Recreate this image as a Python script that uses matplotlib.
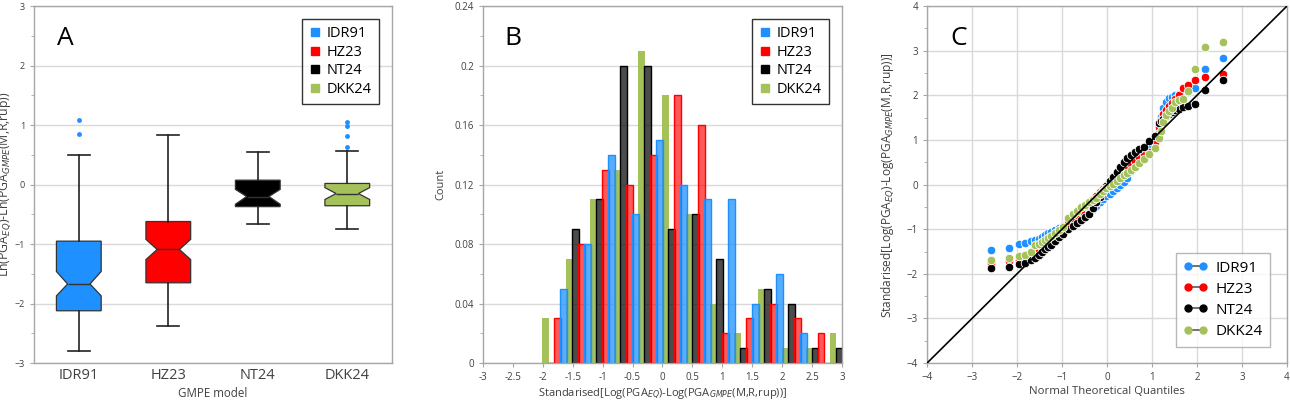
import matplotlib.pyplot as plt
import numpy as np
from matplotlib.lines import Line2D
from matplotlib.ticker import MultipleLocator

plt.rcParams['font.family'] = ['Open Sans', 'DejaVu Sans']

models = ['IDR91', 'HZ23', 'NT24', 'DKK24']
colors = ['#1E90FF', '#FF0000', '#000000', '#A4C15A']

# --- A: notched box plot stats
box_med = [-1.67, -1.09, -0.20, -0.15]
box_q1 = [-2.12, -1.65, -0.37, -0.355]
box_q3 = [-0.95, -0.62, 0.075, 0.02]
box_lo = [-2.79, -2.37, -0.66, -0.75]
box_hi = [0.50, 0.83, 0.54, 0.57]
notch_lo = [-1.87, -1.26, -0.33, -0.25]
notch_hi = [-1.46, -0.92, -0.08, -0.05]
outliers = [[1.08, 0.85], [], [], [1.05, 0.98, 0.81, 0.635]]

# --- B: relative frequency per 0.4-wide bin
bin_centers = [-1.8, -1.4, -1.0, -0.6, -0.2, 0.2, 0.6, 1.0, 1.4, 1.8, 2.2, 2.6, 3.0]
freq_idr91 = [0.05, 0.08, 0.14, 0.10, 0.15, 0.12, 0.11, 0.11, 0.04, 0.06, 0.02, 0, 0]
freq_hz23 = [0.03, 0.08, 0.13, 0.12, 0.14, 0.18, 0.16, 0.02, 0.03, 0.04, 0.03, 0.02, 0]
freq_nt24 = [0, 0.09, 0.11, 0.20, 0.20, 0.09, 0.10, 0.07, 0.01, 0.05, 0.04, 0.01, 0.01]
freq_dkk24 = [0.03, 0.07, 0.11, 0.13, 0.21, 0.18, 0.10, 0.04, 0.02, 0.05, 0.01, 0.01, 0.02]

# --- C: Q-Q points
theo_q = [-2.576, -2.170, -1.960, -1.812, -1.695, -1.598, -1.514, -1.440, -1.372, -1.311,
          -1.254, -1.150, -1.058, -0.974, -0.860, -0.755, -0.659, -0.568, -0.482, -0.399,
          -0.319, -0.240, -0.164, -0.088, -0.013, 0.063, 0.138, 0.215, 0.292, 0.372,
          0.454, 0.539, 0.628, 0.722, 0.824, 0.935, 1.058, 1.150, 1.200, 1.254,
          1.311, 1.372, 1.440, 1.514, 1.598, 1.695, 1.812, 1.960, 2.170, 2.576]
qq_idr91 = [-1.47, -1.41, -1.33, -1.30, -1.27, -1.25, -1.22, -1.18, -1.13, -1.09,
            -1.06, -1.02, -0.97, -0.92, -0.86, -0.80, -0.74, -0.68, -0.62, -0.60,
            -0.55, -0.48, -0.40, -0.33, -0.26, -0.20, -0.14, -0.07, -0.01, 0.06,
            0.15, 0.30, 0.45, 0.60, 0.74, 0.88, 1.00, 1.25, 1.52, 1.72,
            1.85, 1.93, 1.97, 2.00, 2.02, 2.05, 2.08, 2.17, 2.58, 2.84]
qq_hz23 = [-1.76, -1.72, -1.68, -1.63, -1.58, -1.53, -1.48, -1.43, -1.37, -1.31,
           -1.26, -1.17, -1.08, -0.99, -0.87, -0.76, -0.67, -0.58, -0.49, -0.41,
           -0.33, -0.25, -0.17, -0.10, -0.03, 0.04, 0.11, 0.18, 0.25, 0.32,
           0.39, 0.46, 0.54, 0.61, 0.67, 0.72, 0.95, 1.30, 1.45, 1.58,
           1.68, 1.76, 1.84, 1.92, 2.00, 2.16, 2.23, 2.35, 2.41, 2.47]
qq_nt24 = [-1.87, -1.85, -1.78, -1.75, -1.69, -1.64, -1.58, -1.50, -1.44, -1.40,
           -1.35, -1.26, -1.18, -1.10, -1.00, -0.93, -0.86, -0.79, -0.72, -0.65,
           -0.52, -0.40, -0.27, -0.15, -0.04, 0.07, 0.18, 0.28, 0.40, 0.50,
           0.59, 0.66, 0.74, 0.80, 0.85, 0.98, 1.10, 1.38, 1.43, 1.48,
           1.53, 1.58, 1.62, 1.67, 1.70, 1.73, 1.77, 1.81, 2.12, 2.35]
qq_dkk24 = [-1.70, -1.65, -1.60, -1.57, -1.52, -1.36, -1.32, -1.28, -1.24, -1.20,
            -1.16, -1.08, -1.01, -0.95, -0.75, -0.66, -0.58, -0.51, -0.45, -0.40,
            -0.35, -0.29, -0.22, -0.15, -0.08, -0.04, 0.02, 0.08, 0.15, 0.21,
            0.27, 0.33, 0.40, 0.48, 0.57, 0.68, 0.82, 1.05, 1.20, 1.40,
            1.55, 1.65, 1.72, 1.86, 1.90, 1.92, 2.09, 2.58, 3.08, 3.20]
ref_line = [-4, 4]

grid_c = '#d9d9d9'
spine_c = '#a6a6a6'
text_c = '#404040'
small = 7

fig = plt.figure(figsize=(12.9, 4.08), dpi=100)
axA = fig.add_axes([0.0264, 0.110, 0.2775, 0.875])
axB = fig.add_axes([0.3744, 0.110, 0.2783, 0.875])
axC = fig.add_axes([0.7186, 0.110, 0.2790, 0.875])

def style(ax):
    for s in ax.spines.values():
        s.set_color(spine_c)
        s.set_linewidth(1.0)
    ax.tick_params(labelsize=small, colors=text_c, length=3, width=0.8)
    ax.tick_params(which='minor', length=2, width=0.6, colors=spine_c)
    ax.tick_params(which='major', color=spine_c)
    ax.set_axisbelow(True)

# ---------- A
stats = []
for i in range(4):
    stats.append(dict(med=box_med[i], q1=box_q1[i], q3=box_q3[i], whislo=box_lo[i],
                      whishi=box_hi[i], cilo=notch_lo[i], cihi=notch_hi[i],
                      fliers=outliers[i], label=models[i]))
bp = axA.bxp(stats, positions=[1, 2, 3, 4], widths=0.5, shownotches=True, patch_artist=True,
             boxprops=dict(edgecolor='#333333', linewidth=0.9),
             medianprops=dict(color='#333333', linewidth=1.0),
             whiskerprops=dict(color='#222222', linewidth=1.2),
             capprops=dict(color='#222222', linewidth=1.2),
             flierprops=dict(marker='o', markersize=3.5, markerfacecolor='#1E90FF',
                             markeredgecolor='none'))
for patch, c in zip(bp['boxes'], colors):
    patch.set_facecolor(c)
axA.set_xlim(0.5, 4.5)
axA.set_ylim(-3, 3)
axA.yaxis.set_major_locator(MultipleLocator(1))
axA.yaxis.set_minor_locator(MultipleLocator(0.5))
axA.grid(axis='y', color=grid_c, linewidth=1.0)
style(axA)
axA.tick_params(axis='x', labelsize=10.5, length=0)
axA.tick_params(axis='y', labelsize=6.5)
axA.set_xlabel('GMPE model', fontsize=8.3, color=text_c, labelpad=3)
axA.set_ylabel('Ln(PGA$_{EQ}$)-Ln(PGA$_{GMPE}$(M,R,rup))', fontsize=8.8, color=text_c)
axA.yaxis.set_label_coords(-0.058, 0.5)
axA.text(0.065, 0.91, 'A', transform=axA.transAxes, fontsize=19, va='center')
hA = [Line2D([], [], marker='s', linestyle='none', markersize=6, color=c) for c in colors]
legA = axA.legend(hA, models, loc='upper right', fontsize=10.5, frameon=True, fancybox=False,
                  handlelength=0.8, handletextpad=0.4, borderpad=0.5, labelspacing=0.25,
                  bbox_to_anchor=(0.985, 0.985))
legA.get_frame().set_edgecolor('black')
legA.get_frame().set_linewidth(1.0)

# ---------- B
offsets = [0.15, 0.05, -0.05, -0.15]
freqs = [freq_idr91, freq_hz23, freq_nt24, freq_dkk24]
face_alpha = [0.75, 0.65, 0.7, 1.0]
for i in [3, 2, 1, 0]:
    xs = np.array(bin_centers) + offsets[i]
    axB.bar(xs, freqs[i], width=0.115, color=colors[i], alpha=face_alpha[i],
            edgecolor='none')
    if i != 3:
        axB.bar(xs, freqs[i], width=0.115, facecolor='none', edgecolor=colors[i], linewidth=1.0)
axB.set_xlim(-3, 3)
axB.set_ylim(0, 0.24)
axB.set_xticks([-3, -2.5, -2, -1.5, -1, -0.5, 0, 0.5, 1, 1.5, 2, 2.5, 3])
axB.set_xticklabels(['-3', '-2.5', '-2', '-1.5', '-1', '-0.5', '0', '0.5', '1', '1.5', '2', '2.5', '3'])
axB.set_yticks([0, 0.04, 0.08, 0.12, 0.16, 0.2, 0.24])
axB.set_yticklabels(['0', '0.04', '0.08', '0.12', '0.16', '0.2', '0.24'])
axB.yaxis.set_minor_locator(MultipleLocator(0.02))
axB.grid(axis='y', color=grid_c, linewidth=1.0)
style(axB)
axB.set_xlabel('Standarised[Log(PGA$_{EQ}$)-Log(PGA$_{GMPE}$(M,R,rup))]', fontsize=8,
               color=text_c, labelpad=2)
axB.set_ylabel('Count', fontsize=8, color=text_c, labelpad=6)
axB.text(0.06, 0.91, 'B', transform=axB.transAxes, fontsize=19, va='center')
legB = axB.legend(hA, models, loc='upper right', fontsize=10.5, frameon=True, fancybox=False,
                  handlelength=0.8, handletextpad=0.4, borderpad=0.5, labelspacing=0.25,
                  bbox_to_anchor=(0.985, 0.985))
legB.get_frame().set_edgecolor('black')
legB.get_frame().set_linewidth(1.0)

# ---------- C
qq = [qq_idr91, qq_hz23, qq_nt24, qq_dkk24]
for i in range(4):
    axC.scatter(theo_q, qq[i], s=38, color=colors[i], edgecolors='white', linewidths=0.6, zorder=3)
axC.plot(ref_line, ref_line, color='black', linewidth=1.2, zorder=4)
axC.set_xlim(-4, 4)
axC.set_ylim(-4, 4)
axC.xaxis.set_major_locator(MultipleLocator(1))
axC.yaxis.set_major_locator(MultipleLocator(1))
axC.yaxis.set_minor_locator(MultipleLocator(0.5))
axC.grid(color=grid_c, linewidth=1.0)
style(axC)
axC.set_xlabel('Normal Theoretical Quantiles', fontsize=8.2, color=text_c, labelpad=2)
axC.set_ylabel('Standarised[Log(PGA$_{EQ}$)-Log(PGA$_{GMPE}$(M,R,rup))]', fontsize=8.6,
               color=text_c)
axC.yaxis.set_label_coords(-0.085, 0.5)
axC.text(0.064, 0.91, 'C', transform=axC.transAxes, fontsize=19, va='center')
hC = [Line2D([], [], color='#595959', linewidth=1.2, marker='o', markersize=5,
             markerfacecolor=c, markeredgecolor=c) for c in colors]
legC = axC.legend(hC, models, loc='lower right', fontsize=11, frameon=True, fancybox=False,
                  handlelength=1.6, numpoints=2, handletextpad=0.5, borderpad=0.5,
                  labelspacing=0.4, bbox_to_anchor=(0.975, 0.025))
legC.get_frame().set_edgecolor(spine_c)
legC.get_frame().set_linewidth(1.0)

fig.savefig('out.png', dpi=100)
